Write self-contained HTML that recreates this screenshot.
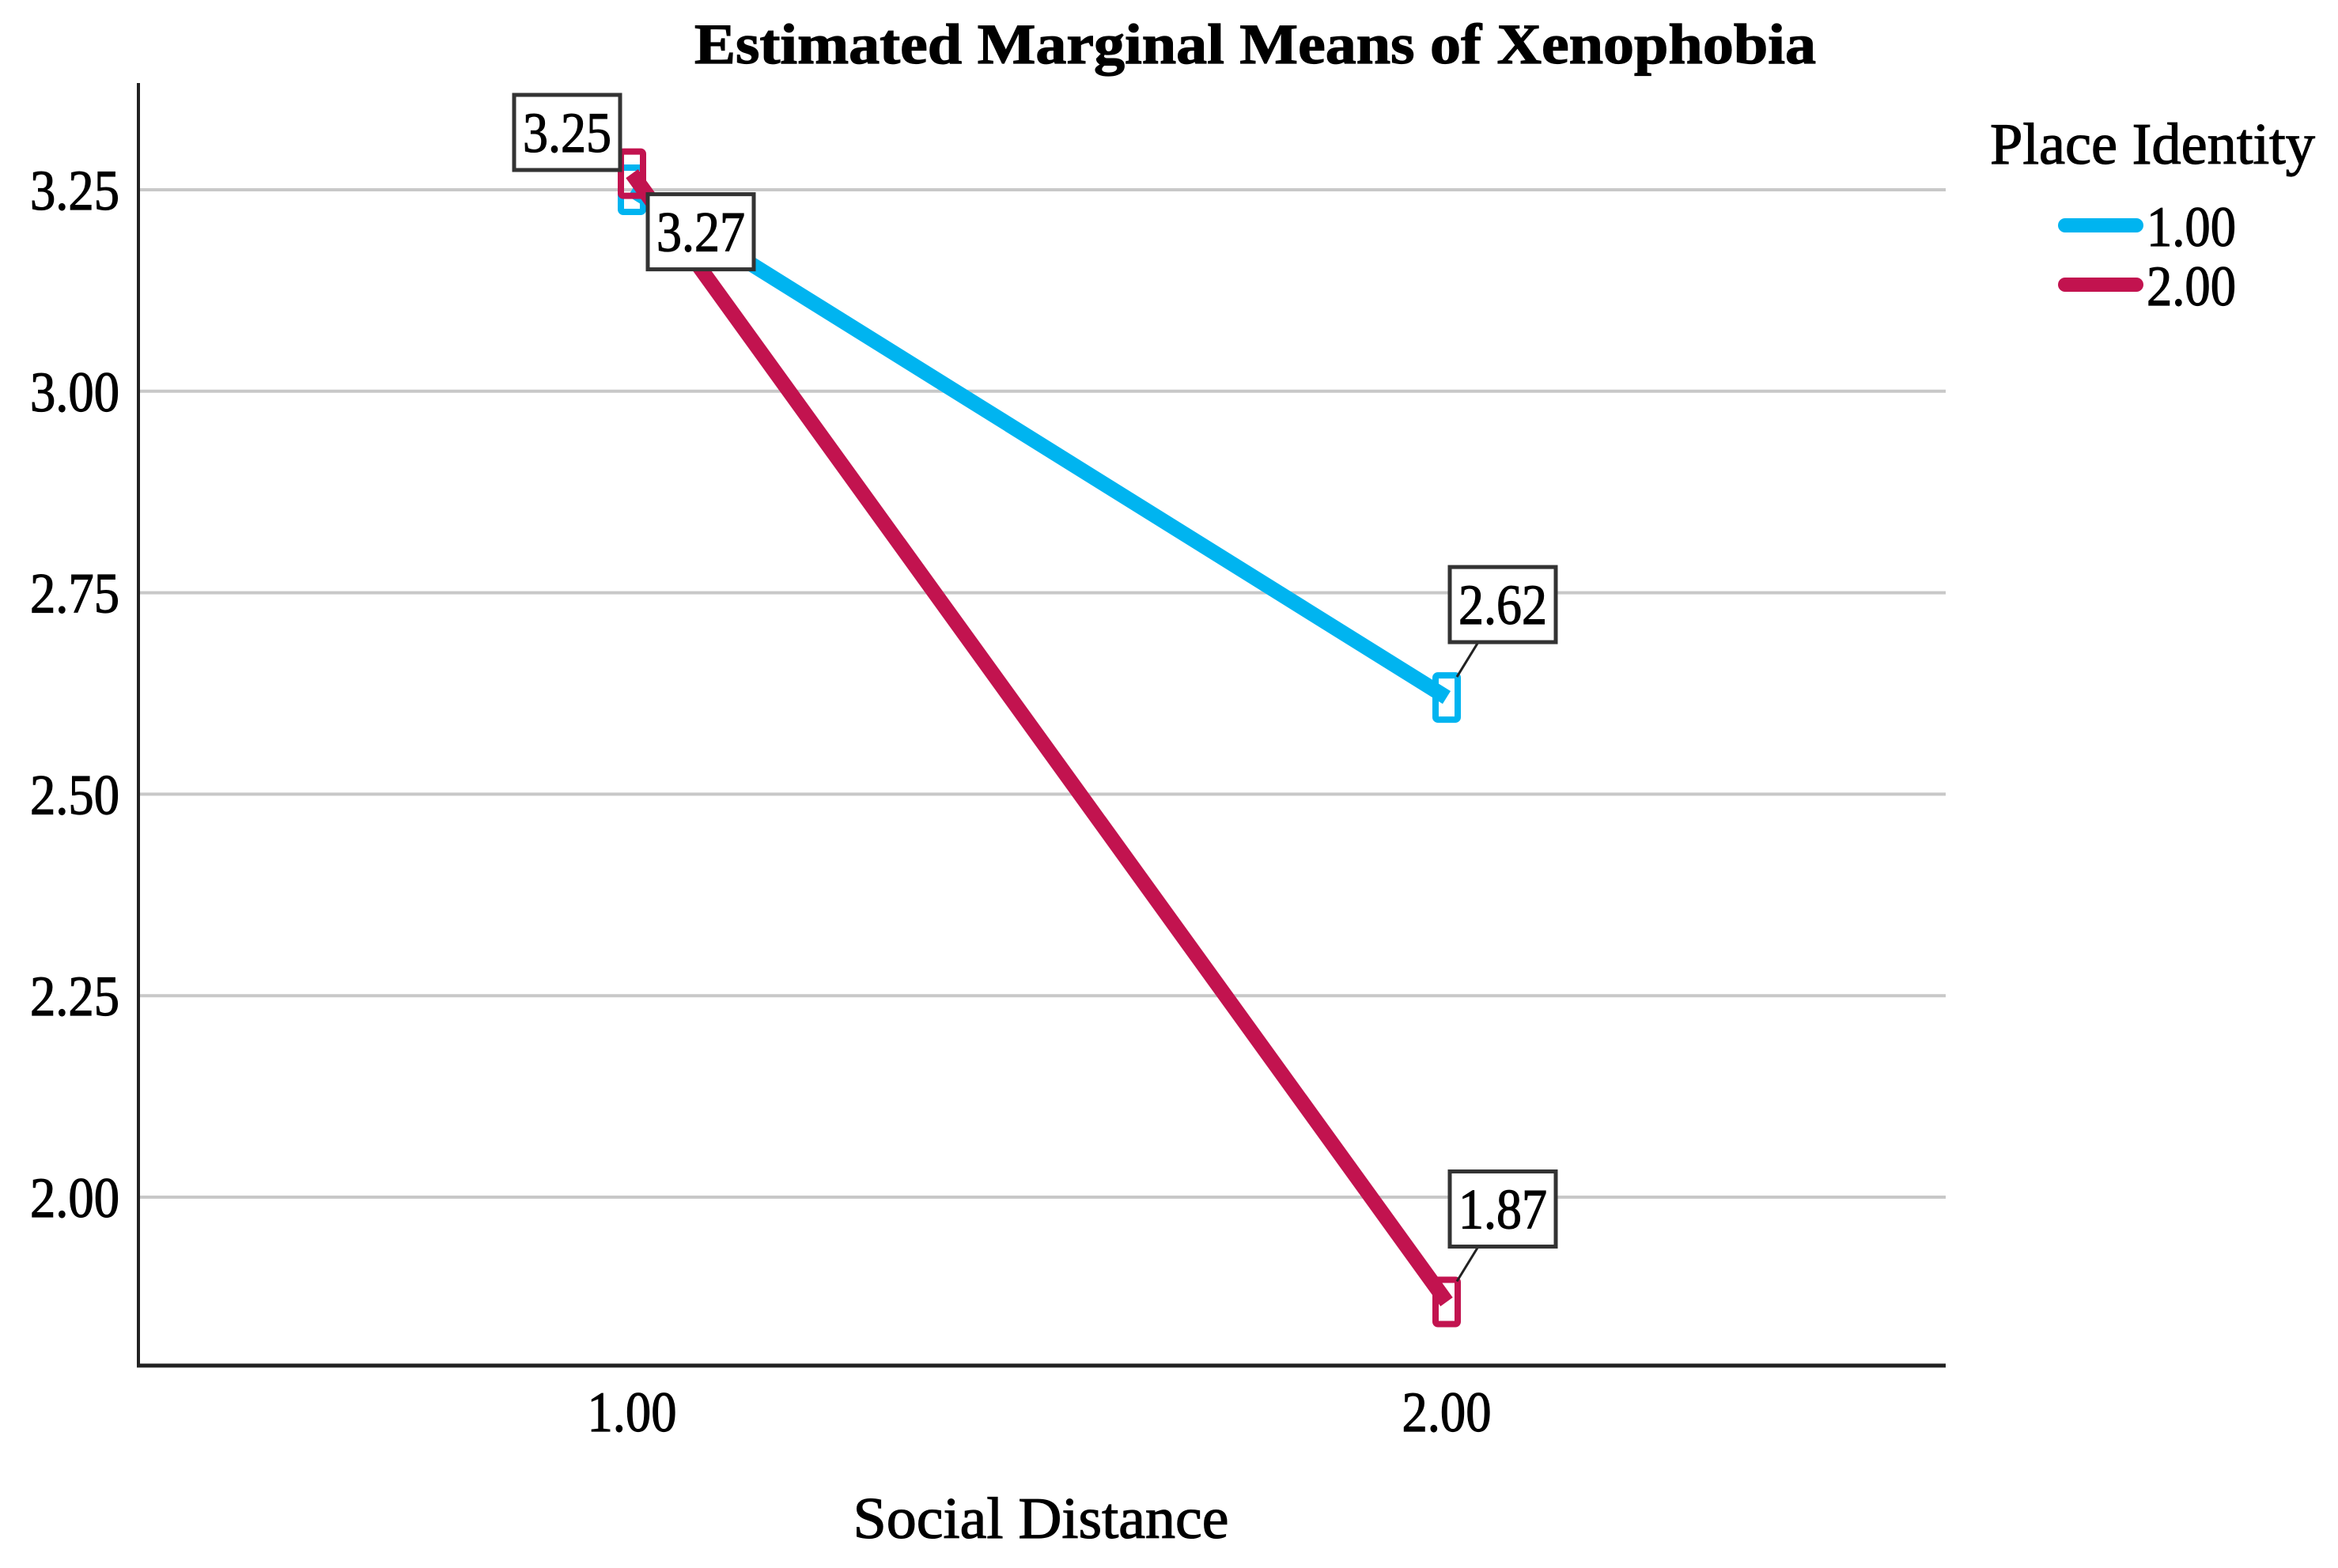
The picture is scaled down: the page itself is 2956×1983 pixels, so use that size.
<!DOCTYPE html>
<html><head><meta charset="utf-8"><style>
html,body{margin:0;padding:0;background:#fff;}
svg{display:block;}
text{font-family:"Liberation Serif",serif;fill:#000;stroke:#000;stroke-width:1.2px;}
</style></head><body>
<svg id="chart" width="2956" height="1983" viewBox="0 0 2956 1983" xmlns="http://www.w3.org/2000/svg">
<text x="1587" y="80" text-anchor="middle" font-size="72" font-weight="bold" textLength="1418" lengthAdjust="spacingAndGlyphs">Estimated Marginal Means of Xenophobia</text>
<g id="grid"></g>
<g id="axes"></g>
<g id="series"></g>
<g id="labels"></g>
<text x="1316" y="1945" text-anchor="middle" font-size="74" textLength="475" lengthAdjust="spacingAndGlyphs">Social Distance</text>
<g>
<text x="2516" y="207" font-size="74" textLength="411" lengthAdjust="spacingAndGlyphs">Place Identity</text>
</g>
<g id="legend-items"></g>
</svg>
<script>
const categories = [1.00, 2.00];
const categoryLabels = ["1.00", "2.00"];
const seriesNames = ["1.00", "2.00"];
const series1Values = [3.25, 2.62];
const series2Values = [3.27, 1.87];
const yTicks = [2.00, 2.25, 2.50, 2.75, 3.00, 3.25];
const yTickLabels = ["2.00", "2.25", "2.50", "2.75", "3.00", "3.25"];

const NS = "http://www.w3.org/2000/svg";
const colors = ["#00b4f0", "#c2134f"];
const L = 175, R = 2460, T = 105, B = 1727;
function y(v){ return 240 + (3.25 - v) * 1019.2; }
function x(c){ return 799 + (c - 1) * 1030; }
function mk(tag, attrs, parent){
  const e = document.createElementNS(NS, tag);
  for (const k in attrs) e.setAttribute(k, attrs[k]);
  parent.appendChild(e); return e;
}
const grid = document.getElementById("grid");
const axes = document.getElementById("axes");
const seriesG = document.getElementById("series");
const labelsG = document.getElementById("labels");
const legendG = document.getElementById("legend-items");

yTicks.forEach((v, i) => {
  const g = mk("line", {x1: L, x2: R, y1: y(v), y2: y(v), stroke: "#c8c8c8", "stroke-width": 4}, grid);
  
  
  const t = mk("text", {x: 151, y: y(v) + 25, "text-anchor": "end", "font-size": 72, textLength: 113, lengthAdjust: "spacingAndGlyphs"}, axes);
  t.textContent = yTickLabels[i];
  
  
});
const ya = mk("line", {x1: L, x2: L, y1: T, y2: B + 2, stroke: "#222", "stroke-width": 4}, axes);


const xa = mk("line", {x1: L - 2, x2: R, y1: B, y2: B, stroke: "#222", "stroke-width": 5}, axes);


categories.forEach((c, i) => {
  const t = mk("text", {x: x(c), y: 1810, "text-anchor": "middle", "font-size": 72, textLength: 113, lengthAdjust: "spacingAndGlyphs"}, axes);
  t.textContent = categoryLabels[i];
  
  
});

const allSeries = [series1Values, series2Values];
allSeries.forEach((vals, s) => {
  const pts = vals.map((v, i) => x(categories[i]) + "," + y(v)).join(" ");
  const pl = mk("polyline", {points: pts, fill: "none", stroke: colors[s], "stroke-width": 19, "stroke-linejoin": "round"}, seriesG);
  
  
  vals.forEach((v, i) => {
    const r = mk("rect", {x: x(categories[i]) - 14, y: y(v) - 28, width: 28, height: 56, fill: "none", stroke: colors[s], "stroke-width": 8, rx: 3}, seriesG);
    
    
  });
});

function box(px, py, dx, dy, val, leader){
  const g = mk("g", {}, labelsG);
  
  
  if (leader) mk("line", {x1: px + leader[0], y1: py + leader[1], x2: px + leader[2], y2: py + leader[3], stroke: "#222", "stroke-width": 3}, g);
  mk("rect", {x: px + dx, y: py + dy, width: 134, height: 95, fill: "#fff", stroke: "#333", "stroke-width": 5}, g);
  const t = mk("text", {x: px + dx + 67, y: py + dy + 72, "text-anchor": "middle", "font-size": 72, textLength: 112, lengthAdjust: "spacingAndGlyphs"}, g);
  t.textContent = val.toFixed(2);
}
box(x(categories[0]), y(series1Values[0]), -149, -120, series1Values[0], null);
box(x(categories[0]), y(series2Values[0]), 20, 26, series2Values[0], null);
box(x(categories[1]), y(series1Values[1]), 4, -165, series1Values[1], [40, -70, 13, -26]);
box(x(categories[1]), y(series2Values[1]), 4, -165, series2Values[1], [40, -70, 13, -26]);

seriesNames.forEach((n, i) => {
  const yy = 285 + i * 75;
  const l = mk("line", {x1: 2611, x2: 2701, y1: yy, y2: yy, stroke: colors[i], "stroke-width": 18, "stroke-linecap": "round"}, legendG);
  
  
  const t = mk("text", {x: 2714, y: yy + 26, "font-size": 72, textLength: 113, lengthAdjust: "spacingAndGlyphs"}, legendG);
  t.textContent = n;
  
  
});
</script>
</body></html>
